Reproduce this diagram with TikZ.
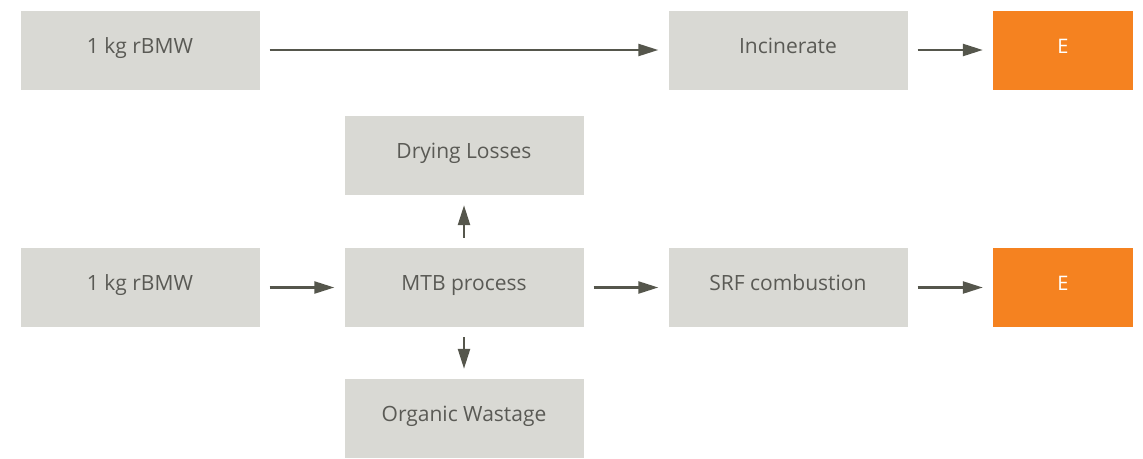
\documentclass[tikz,border=0pt]{standalone}
\usepackage{fontspec}
\setmainfont{Open Sans}
\usetikzlibrary{arrows.meta}
\definecolor{boxgray}{HTML}{D9D9D4}
\definecolor{txtgray}{HTML}{5A5A55}
\definecolor{arrgray}{HTML}{55564C}
\definecolor{eorange}{HTML}{F58220}
\begin{document}
\begin{tikzpicture}[x=1pt,y=-1pt,
  procbox/.style={fill=boxgray,draw=none,minimum width=239pt,minimum height=79pt,inner sep=0pt,text=txtgray,font=\fontsize{21}{24}\selectfont,text height=0.77em,text depth=0.15em},
  ebox/.style={fill=eorange,draw=none,minimum width=140pt,minimum height=79pt,inner sep=0pt,text=white,font=\fontsize{20}{24}\selectfont,text height=0.77em,text depth=0.15em},
  flow/.style={draw=arrgray,line width=2.4pt,-{Triangle[length=20pt,width=12pt]},shorten <=10pt,shorten >=10pt}]
\useasboundingbox (0,0) rectangle (1143,458);
\node[procbox] (a1) at (140,50) {1 kg rBMW};
\node[procbox] (inc) at (788,50) {Incinerate};
\node[ebox] (e1) at (1063,50) {E};
\node[procbox] (dry) at (464,155.5) {Drying Losses};
\node[procbox] (a2) at (140,287.5) {1 kg rBMW};
\node[procbox] (mtb) at (464,287.5) {MTB process};
\node[procbox] (srf) at (788,287.5) {SRF combustion};
\node[ebox] (e2) at (1063,287.5) {E};
\node[procbox] (org) at (464,418.5) {Organic Wastage};
\draw[flow] (a1) -- (inc);
\draw[flow] (inc) -- (e1);
\draw[flow] (a2) -- (mtb);
\draw[flow] (mtb) -- (srf);
\draw[flow] (srf) -- (e2);
\draw[flow] (mtb) -- (dry);
\draw[flow] (mtb) -- (org);
\end{tikzpicture}
\end{document}
